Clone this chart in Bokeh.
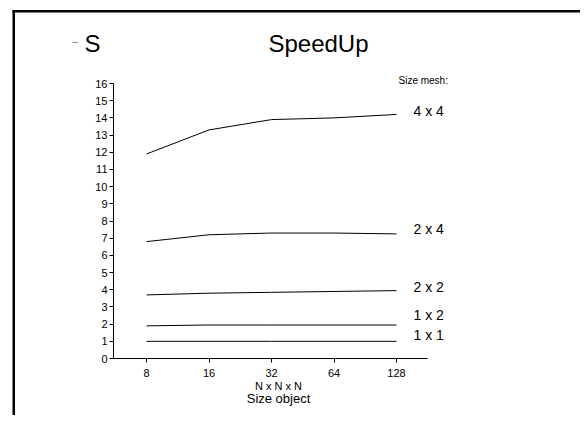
from bokeh.plotting import figure
from bokeh.models import Range1d, Label, BoxAnnotation, PrintfTickFormatter
from bokeh.embed import file_html
from bokeh.resources import INLINE

# ---- data ----
sizes = [8, 16, 32, 64, 128]
mesh_names = ["4 x 4", "2 x 4", "2 x 2", "1 x 2", "1 x 1"]
speedup_4x4 = [11.9, 13.3, 13.9, 14.0, 14.2]
speedup_2x4 = [6.8, 7.2, 7.3, 7.3, 7.25]
speedup_2x2 = [3.7, 3.8, 3.85, 3.9, 3.95]
speedup_1x2 = [1.9, 1.95, 1.95, 1.95, 1.95]
speedup_1x1 = [1.0, 1.0, 1.0, 1.0, 1.0]
y_ticks = list(range(0, 17))

series = [speedup_4x4, speedup_2x4, speedup_2x2, speedup_1x2, speedup_1x1]

FONT = "Liberation Sans"
W, H = 580, 415

# axis geometry (pixels): y=0 at 358, y=16 at 83; x=8 at 146, 62.5 px per octave
PX_Y = (358 - 83) / 16.0
y0 = -(H - 358) / PX_Y
y1 = 16 + 83 / PX_Y
PX_OCT = 62.5
x0 = 2 ** (3 - 146 / PX_OCT)
x1 = 2 ** (3 + (W - 146) / PX_OCT)
ax_x0 = 2 ** (3 - (146 - 113) / PX_OCT)
ax_x1 = 2 ** (3 + (427 - 146) / PX_OCT)

p = figure(width=W, height=H, output_backend="svg", toolbar_location=None,
           x_axis_type="log",
           x_range=Range1d(x0, x1), y_range=Range1d(y0, y1),
           min_border=0)
p.outline_line_color = None
p.xgrid.visible = False
p.ygrid.visible = False
p.background_fill_color = "white"
p.border_fill_color = "white"

for vals in series:
    p.line(sizes, vals, line_color="black", line_width=1)

# axes at fixed locations inside the full-canvas frame
for ax in (p.xaxis, p.yaxis):
    ax.axis_line_color = "black"
    ax.major_tick_line_color = "black"
    ax.major_tick_out = 4
    ax.major_tick_in = 0
    ax.minor_tick_line_color = None
    ax.major_label_text_font = FONT
    ax.major_label_text_font_size = "11px"
    ax.major_label_text_color = "black"
p.yaxis.ticker = y_ticks
p.yaxis.major_label_standoff = 2
p.yaxis.fixed_location = ax_x0
p.yaxis.bounds = (0, 16)
p.xaxis.ticker = sizes
p.xaxis.formatter = PrintfTickFormatter(format="%d")
p.xaxis.major_label_standoff = 6
p.xaxis.fixed_location = 0
p.xaxis.bounds = (ax_x0, ax_x1)

# outer frame (top + left edges visible), drawn as thin filled bars
def bar(l, r, t, b, color="black"):
    p.add_layout(BoxAnnotation(left=l, right=r, top=t, bottom=b,
                               left_units="canvas", top_units="canvas",
                               right_units="canvas", bottom_units="canvas",
                               fill_color=color, fill_alpha=1.0,
                               line_color=None))
bar(12, W, 9.5, 12)
bar(12, 14.5, 9.5, H)
bar(72, 77, 41.5, 42.5, "#888888")  # small mark before the "S"

def lab(text, px, py, size, align="center"):
    # px, py: canvas pixel position (y downwards)
    p.add_layout(Label(x=px, y=H - py, x_units="screen", y_units="screen", text=text,
                       text_font=FONT, text_font_size=size, text_color="black",
                       text_align=align, text_baseline="middle"))

lab("SpeedUp", 318, 43, "24px")
lab("S", 92, 43, "24px")
lab("N x N x N", 278, 385, "11px")
lab("Size object", 278, 398, "13px")
lab("Size mesh:", 398, 80, "10px", "left")
label_py = [110, 228, 286, 314, 334]
for name, ly in zip(mesh_names, label_py):
    lab(name, 413, ly, "14px", "left")

open("out.html", "w").write(file_html(p, INLINE))
